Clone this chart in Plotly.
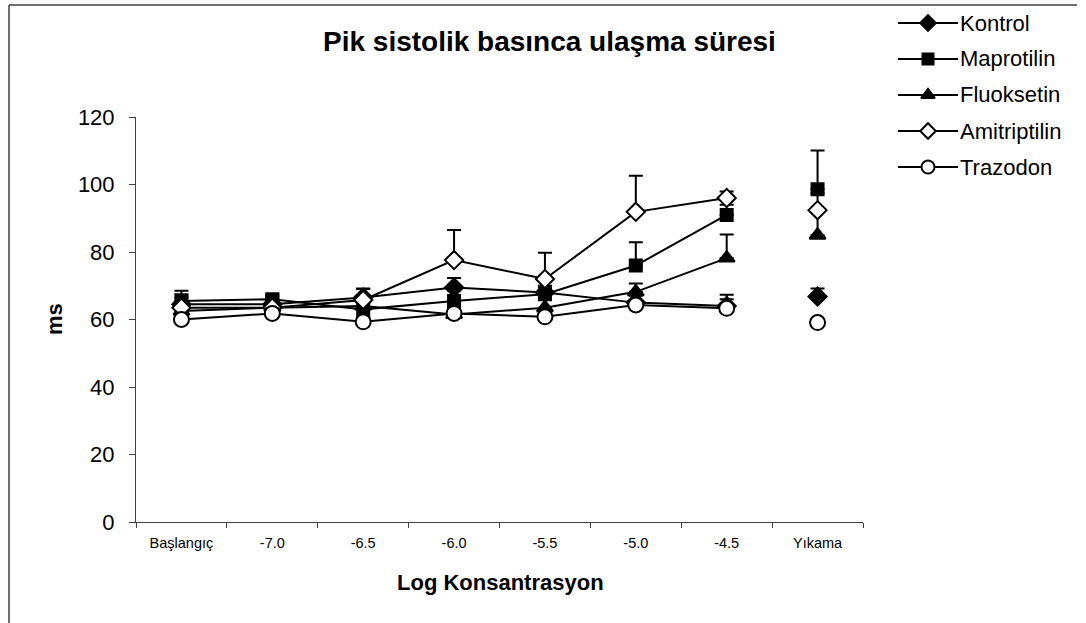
import plotly.graph_objects as go

categories = ["Başlangıç", "-7.0", "-6.5", "-6.0", "-5.5", "-5.0", "-4.5", "Yıkama"]

kontrol = [64.5, 64.5, 66.5, 69.5, 68.0, 65.0, 64.0, 66.8]
kontrol_err = [3.0, 2.5, 2.5, 2.8, 2.0, 2.0, 2.0, 2.4]

maprotilin = [65.5, 66.0, 63.0, 65.5, 67.5, 76.0, 91.0, 98.6]
maprotilin_err = [3.0, 1.5, 2.0, 3.0, 2.0, 6.9, 3.0, 11.5]

fluoksetin = [62.5, 63.5, 64.0, 61.5, 63.5, 68.2, 78.2, 85.0]
fluoksetin_err = [2.0, 2.0, 3.0, 3.0, 3.0, 2.5, 7.0, 7.0]

amitriptilin = [63.5, 63.5, 65.8, 77.6, 72.0, 91.9, 96.0, 92.4]
amitriptilin_err = [3.0, 3.0, 3.4, 8.9, 7.8, 10.7, 1.9, 5.0]

trazodon = [60.0, 61.8, 59.3, 61.8, 60.8, 64.3, 63.3, 59.1]
trazodon_err = [1.5, 1.5, 1.5, 1.5, 1.5, 1.5, 4.0, 1.0]

y_ticks = [0, 20, 40, 60, 80, 100, 120]

FONT = "Arial, 'Liberation Sans', sans-serif"
W, H = 1086, 623


def split(vals):
    # break the line between the last concentration and the washout point
    return vals[:7] + [None] + vals[7:]


x_broken = categories[:7] + [None] + categories[7:]

series = [
    ("Kontrol", kontrol, kontrol_err, "diamond", "black", 14, 12),
    ("Maprotilin", maprotilin, maprotilin_err, "square", "black", 12, 11),
    ("Fluoksetin", fluoksetin, fluoksetin_err, "triangle-up", "black", 14, 12),
    ("Amitriptilin", amitriptilin, amitriptilin_err, "diamond", "white", 14, 12),
    ("Trazodon", trazodon, trazodon_err, "circle", "white", 15, 13),
]

fig = go.Figure()
for name, vals, err, sym, fill, size, _ in series:
    e = split(err)
    e = [0 if v is None else v for v in e]
    fig.add_trace(go.Scatter(
        x=x_broken, y=split(vals), name=name, mode="lines+markers",
        line=dict(color="black", width=2),
        marker=dict(symbol=sym, size=size, color=fill,
                    line=dict(color="black", width=2)),
        error_y=dict(type="data", symmetric=False, array=e,
                     arrayminus=[0] * len(e), color="black",
                     thickness=2, width=7),
        connectgaps=False, cliponaxis=False, showlegend=False,
        xaxis="x", yaxis="y",
    ))

# custom legend on a full-figure overlay axis measured in pixels
LEG_X0, LEG_X1, LEG_Y0, LEG_DY = 898, 958, 23, 36
annotations = []
for i, (name, vals, err, sym, fill, size, lsize) in enumerate(series):
    yy = LEG_Y0 + i * LEG_DY
    fig.add_trace(go.Scatter(
        x=[LEG_X0, LEG_X1], y=[yy, yy], mode="lines",
        line=dict(color="black", width=2), showlegend=False,
        hoverinfo="skip", xaxis="x2", yaxis="y2", cliponaxis=False,
    ))
    fig.add_trace(go.Scatter(
        x=[(LEG_X0 + LEG_X1) / 2], y=[yy], mode="markers",
        marker=dict(symbol=sym, size=lsize, color=fill,
                    line=dict(color="black", width=2)),
        showlegend=False, hoverinfo="skip", xaxis="x2", yaxis="y2",
        cliponaxis=False,
    ))
    annotations.append(dict(
        text=name, x=LEG_X1 / W, y=1 - yy / H, xref="paper", yref="paper",
        xanchor="left", yanchor="middle", showarrow=False,
        font=dict(size=22, family=FONT, color="black")))

PL, PR, PT, PB = 136, 863, 117, 522

annotations += [
    dict(text="<b>Pik sistolik basınca ulaşma süresi</b>",
         x=549 / W, y=1 - 42 / H, xref="paper", yref="paper",
         xanchor="center", yanchor="middle", showarrow=False,
         font=dict(size=28, family=FONT, color="black")),
    dict(text="<b>Log Konsantrasyon</b>",
         x=500 / W, y=1 - 582 / H, xref="paper", yref="paper",
         xanchor="center", yanchor="middle", showarrow=False,
         font=dict(size=22, family=FONT, color="black")),
    dict(text="<b>ms</b>", textangle=-90,
         x=54 / W, y=1 - 319 / H, xref="paper", yref="paper",
         xanchor="center", yanchor="middle", showarrow=False,
         font=dict(size=22, family=FONT, color="black")),
]

fig.update_layout(
    width=W, height=H,
    margin=dict(l=0, r=0, t=0, b=0),
    paper_bgcolor="white", plot_bgcolor="rgba(0,0,0,0)",
    font=dict(family=FONT, color="black"),
    showlegend=False,
    xaxis=dict(
        domain=[PL / W, PR / W], anchor="y", automargin=False,
        type="category", categoryorder="array", categoryarray=categories,
        range=[-0.5, 7.5],
        showline=True, linecolor="#404040", linewidth=1,
        ticks="outside", tickson="boundaries", ticklen=5,
        tickcolor="#404040", tickwidth=1,
        tickfont=dict(size=14.5, family=FONT, color="black"),
        ticklabelstandoff=8,
        showgrid=False, zeroline=False,
    ),
    yaxis=dict(
        domain=[1 - PB / H, 1 - PT / H], anchor="x", automargin=False,
        range=[0, 120], tickvals=y_ticks,
        showline=True, linecolor="#404040", linewidth=1,
        ticks="outside", ticklen=6, tickcolor="#404040", tickwidth=1,
        tickfont=dict(size=22, family=FONT, color="black"),
        ticklabelstandoff=10,
        showgrid=False, zeroline=False,
    ),
    xaxis2=dict(domain=[0, 1], range=[0, W], visible=False, automargin=False,
                anchor="y2", fixedrange=True),
    yaxis2=dict(domain=[0, 1], range=[H, 0], visible=False, automargin=False,
                anchor="x2", fixedrange=True),
    annotations=annotations,
    shapes=[
        dict(type="line", xref="paper", yref="paper",
             x0=9 / W, x1=1077 / W, y0=1 - 5 / H, y1=1 - 5 / H,
             line=dict(color="#404040", width=1.5)),
        dict(type="line", xref="paper", yref="paper",
             x0=9 / W, x1=9 / W, y0=1 - 5 / H, y1=0,
             line=dict(color="#404040", width=1.5)),
    ],
)

fig.write_html("out.html")
